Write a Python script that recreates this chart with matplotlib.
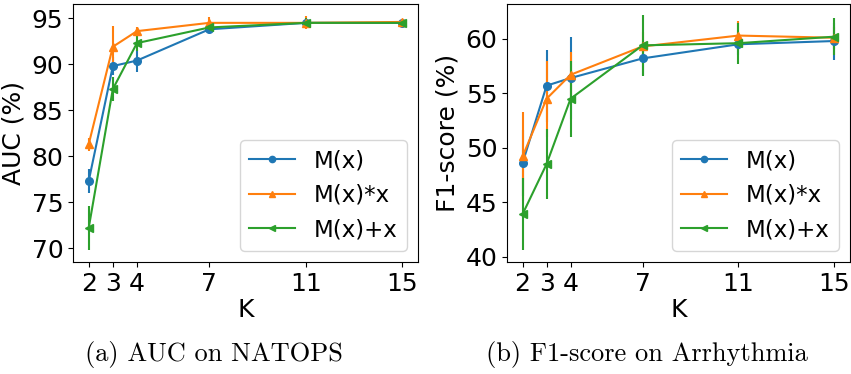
"""Ablation over K: AUC on NATOPS and F1-score on Arrhythmia."""
import numpy as np
import matplotlib
matplotlib.use("Agg")
import matplotlib.pyplot as plt
from matplotlib.lines import Line2D

K = [2, 3, 4, 7, 11, 15]
labels = ["M(x)", "M(x)*x", "M(x)+x"]
markers = ["o", "^", "<"]
colors = ["#1f77b4", "#ff7f0e", "#2ca02c"]

# (a) AUC on NATOPS
auc_mx = [77.3, 89.8, 90.4, 93.8, 94.5, 94.5]
auc_mx_err = [1.3, 1.0, 1.2, 0.4, 0.4, 0.2]
auc_mul = [81.3, 91.9, 93.6, 94.5, 94.5, 94.6]
auc_mul_err = [0.7, 2.3, 0.4, 0.6, 0.7, 0.3]
auc_add = [72.2, 87.3, 92.3, 94.0, 94.5, 94.5]
auc_add_err = [2.4, 1.3, 0.9, 0.3, 0.5, 0.2]

# (b) F1-score on Arrhythmia
f1_mx = [48.6, 55.7, 56.4, 58.2, 59.5, 59.8]
f1_mx_err = [3.0, 3.3, 3.8, 1.5, 1.0, 1.7]
f1_mul = [49.2, 54.5, 56.7, 59.3, 60.3, 60.1]
f1_mul_err = [4.1, 3.5, 2.1, 1.3, 1.3, 1.0]
f1_add = [43.9, 48.5, 54.5, 59.4, 59.6, 60.2]
f1_add_err = [3.3, 3.2, 3.5, 2.8, 1.9, 1.7]

FS = 18

fig = plt.figure(figsize=(8.51, 3.74), dpi=100)
ax1 = fig.add_axes([0.0858, 0.2995, 0.4054, 0.6898])
ax2 = fig.add_axes([0.5958, 0.2995, 0.4030, 0.6898])


def panel(ax, series, errs, ylabel, yticks, ylim):
    handles = []
    for y, e, lab, m, c in zip(series, errs, labels, markers, colors):
        ax.errorbar(K, y, yerr=e, marker=m, color=c,
                    markersize=5.5, linewidth=1.5, elinewidth=1.5, capsize=0)
        handles.append(Line2D([], [], color=c, marker=m, markersize=4.5,
                              linewidth=1.5, label=lab))
    ax.set_xticks(K)
    ax.set_yticks(yticks)
    ax.set_ylim(*ylim)
    ax.tick_params(labelsize=FS)
    ax.set_xlabel("K", fontsize=FS, labelpad=2)
    ax.set_ylabel(ylabel, fontsize=FS)
    ax.legend(handles=handles, loc="lower right", fontsize=16.5)


panel(ax1, [auc_mx, auc_mul, auc_add], [auc_mx_err, auc_mul_err, auc_add_err],
      "AUC (%)", [70, 75, 80, 85, 90, 95], (68.5, 96.55))
panel(ax2, [f1_mx, f1_mul, f1_add], [f1_mx_err, f1_mul_err, f1_add_err],
      "F1-score (%)", [40, 45, 50, 55, 60], (39.5, 63.2))

fig.text(214 / 851, 1 - 355 / 374, "(a) AUC on NATOPS", family="cmr10",
         fontsize=19, ha="center", va="center")
fig.text(647 / 851, 1 - 355 / 374, "(b) F1-score on Arrhythmia", family="cmr10",
         fontsize=19, ha="center", va="center")

fig.savefig("out.png", dpi=100)
